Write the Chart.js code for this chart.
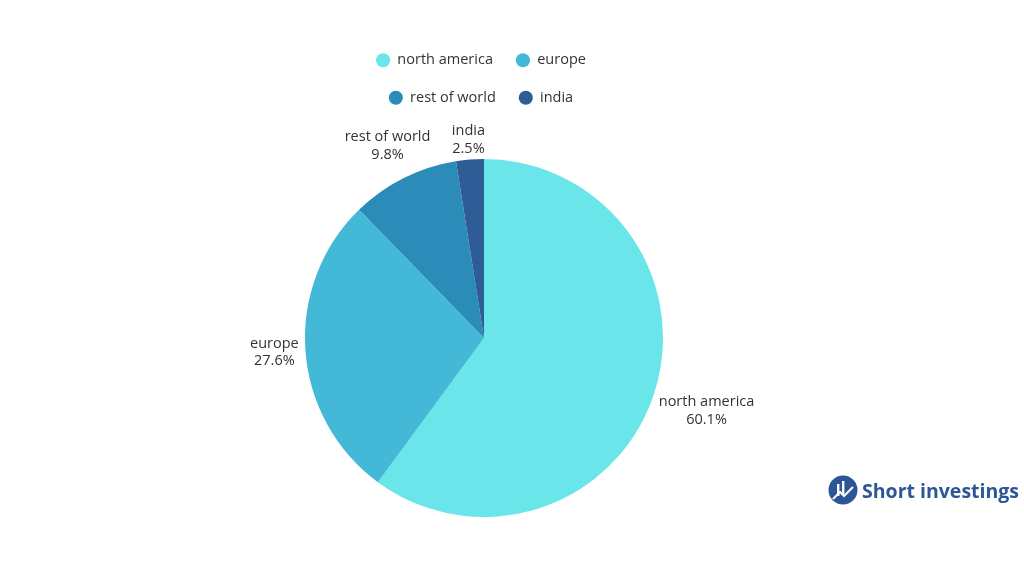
<!DOCTYPE html>
<html>
<head>
<meta charset="utf-8">
<script src="https://cdn.jsdelivr.net/npm/chart.js@4"></script>
<style>
  html, body { margin: 0; padding: 0; background: #ffffff; width: 1024px; height: 576px; overflow: hidden; }
  #wrap { position: absolute; left: 0; top: 0; width: 968px; height: 576px; }
  #logo { position: absolute; left: 828px; top: 475px; height: 30px; display: flex; align-items: center; }
  #logo span { font-family: "Open Sans", sans-serif; font-weight: 700; font-size: 19.5px; color: #2D5696; margin-left: 4px; }
</style>
</head>
<body>
<div id="wrap"><canvas id="c"></canvas></div>
<div id="logo">
  <svg width="30" height="30" viewBox="0 0 30 30">
    <circle cx="15" cy="15" r="14.5" fill="#2D5696"/>
    <rect x="9" y="9" width="2.4" height="12" fill="#ffffff"/>
    <rect x="14" y="6" width="2.4" height="13" fill="#ffffff"/>
    <polyline points="5,24 12,17 16,21 25,12" fill="none" stroke="#ffffff" stroke-width="2"/>
  </svg>
  <span>Short investings</span>
</div>
<script>
const categories = ["north america", "europe", "rest of world", "india"];
const shares = [60.1, 27.6, 9.8, 2.5];
const percentLabels = ["60.1%", "27.6%", "9.8%", "2.5%"];
const sliceColors = ["#6AE5E9", "#43B9D7", "#2B8BB9", "#2D5C97"];

const LEGEND_W = 270;
// Force the legend to wrap two items per row (like the reference)
const legendWrap = {
  id: "legendWrap",
  beforeLayout(chart) {
    const lg = chart.legend;
    if (!lg || lg._wrapped) return;
    const orig = lg.update.bind(lg);
    lg.update = function (w, h, m) {
      const r = orig(Math.min(w, LEGEND_W), h, m);
      this.height += 44;
      return r;
    };
    lg._wrapped = true;
  },
  afterLayout(chart) {
    const lg = chart.legend;
    if (!lg) return;
    const c = chart.width / 2 - 3;
    lg.left = c - LEGEND_W / 2;
    lg.right = c + LEGEND_W / 2;
    lg.width = LEGEND_W;
  }
};

const outsideLabels = {
  id: "outsideLabels",
  afterDatasetsDraw(chart) {
    const ctx = chart.ctx;
    const meta = chart.getDatasetMeta(0);
    ctx.save();
    ctx.font = "14.5px 'Open Sans', sans-serif";
    ctx.fillStyle = "#333333";
    ctx.textAlign = "center";
    ctx.textBaseline = "middle";
    const lh = 17.5;
    meta.data.forEach((arc, i) => {
      const p = arc.getProps(["x", "y", "startAngle", "endAngle", "outerRadius"], true);
      const mid = (p.startAngle + p.endAngle) / 2;
      const dx = Math.cos(mid), dy = Math.sin(mid);
      const lines = [categories[i], percentLabels[i]];
      const w = Math.max(...lines.map(t => ctx.measureText(t).width));
      const hw = w / 2, hh = lh * 0.7;
      const ext = Math.abs(dx) * hw + Math.abs(dy) * hh;
      const r = p.outerRadius + ext + 6;
      const cx = p.x + dx * r, cy = p.y + dy * r;
      ctx.fillText(lines[0], cx, cy - lh / 2);
      ctx.fillText(lines[1], cx, cy + lh / 2);
    });
    ctx.restore();
  }
};

new Chart(document.getElementById("c"), {
  type: "pie",
  data: {
    labels: categories,
    datasets: [{
      data: shares,
      backgroundColor: sliceColors,
      borderWidth: 0
    }]
  },
  options: {
    responsive: true,
    maintainAspectRatio: false,
    animation: false,
    layout: { padding: { top: 30, bottom: 59 } },
    plugins: {
      tooltip: { enabled: false },
      legend: {
        position: "top",
        labels: {
          usePointStyle: true,
          pointStyle: "circle",
          boxWidth: 14,
          boxHeight: 10,
          padding: 23,
          color: "#333333",
          font: { family: "'Open Sans', sans-serif", size: 14.5 }
        }
      }
    }
  },
  plugins: [legendWrap, outsideLabels]
});
</script>
</body>
</html>
